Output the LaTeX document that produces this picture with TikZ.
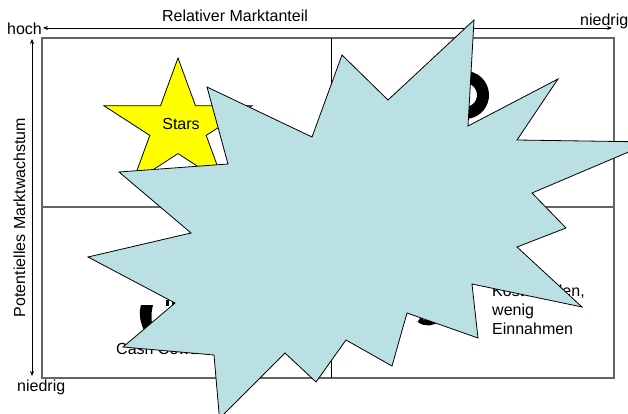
\documentclass[tikz,border=0pt]{standalone}
\usepackage{fontspec}
\setmainfont{Liberation Sans}
\usetikzlibrary{arrows.meta}
\definecolor{boomblue}{RGB}{186,224,228}
\definecolor{framegray}{RGB}{100,100,100}
\definecolor{staryellow}{RGB}{255,255,0}
\tikzset{
  lbl/.style={inner sep=0pt, font=\fontsize{16}{19}\selectfont},
  frameline/.style={draw=framegray, line width=1.4pt},
  divline/.style={draw=framegray, line width=1.1pt},
  axisline/.style={draw=black, line width=0.7pt, {Stealth[length=5pt,width=4pt]}-{Stealth[length=5pt,width=4pt]}},
  boom/.style={fill=boomblue, draw=black, line width=0.8pt, line join=miter},
  starshape/.style={fill=staryellow, draw=black, line width=0.8pt},
  glyph/.style={draw=black, line width=12pt}
}
\begin{document}
\begin{tikzpicture}[x=1pt,y=-1pt]
\useasboundingbox (0,0) rectangle (628,414);
\clip (0,0) rectangle (628,414);
\fill[white] (0,0) rectangle (628,414);

% matrix
\draw[frameline] (42,38) rectangle (614,378);
\draw[divline] (42,207) -- (614,207);
\draw[draw=black, line width=0.8pt] (331,38) -- (331,378);

% axes
\coordinate (hl) at (43,28);
\coordinate (hr) at (612,28);
\coordinate (vt) at (32,39);
\coordinate (vb) at (32,376);
\draw[axisline] (hl) -- (hr);
\draw[axisline] (vt) -- (vb);

% labels
\node[lbl, anchor=base] (rel) at (235,22) {Relativer Marktanteil};
\node[lbl, anchor=base west] (hoch) at (7,35) {hoch};
\node[lbl, anchor=base west] (niedr1) at (580,26) {niedrig};
\node[lbl, anchor=base west] (niedr2) at (17,391.5) {niedrig};
\node[lbl, anchor=base, rotate=90] (pot) at (25,217.5) {Potentielles Marktwachstum};

% star
\draw[starshape] (178,58) -- (195.5,105.8) -- (252,105.8) -- (206.2,135.4) -- (223.7,183.2)
  -- (178,153.6) -- (132.3,183.2) -- (149.8,135.4) -- (104,105.8) -- (160.5,105.8) -- cycle;
\node[lbl, anchor=base] (stars) at (181,129.5) {Stars};

% question mark glyph (top right)
\draw[glyph] (465,95) ++(200:18) arc[start angle=200, end angle=455, radius=18] -- ++(-8,10) -- ++(0,14);
\fill[black] (456,158) circle (7);

% cash cow glyph (bottom left)
\fill[black] (141,305) -- (153,305) .. controls (151,312) and (151,320) .. (153,330)
  -- (146,334) .. controls (139,322) and (139,312) .. (141,305) -- cycle;
\fill[black] (166,299.5) rectangle (168.5,305.5);
\fill[black] (171.5,300) rectangle (176,305.5);
\node[lbl, anchor=base west] (cash) at (116,354) {Cash Cows};

% dog glyph (bottom right)
\draw[black, line width=5pt] (428,309) ++(130:14) arc[start angle=130, end angle=40, radius=14];
\node[lbl, anchor=base west] (d1) at (492,296) {Kostenfallen,};
\node[lbl, anchor=base west] (d2) at (492,315) {wenig};
\node[lbl, anchor=base west] (d3) at (492,334) {Einnahmen};

% explosion
\draw[boom] (474,20) -- (468,126) -- (558,79) -- (517,140) -- (652,142) -- (532,193)
  -- (566,228) -- (517,247) -- (582,307) -- (472,284) -- (478,338) -- (407,313)
  -- (392,366) -- (346,340) -- (316,382) -- (285,353) -- (219.5,418.5) -- (214,355)
  -- (123,347) -- (175,303) -- (88,257) -- (191,233) -- (119,172) -- (228,164)
  -- (207,87) -- (312,137) -- (342,55) -- (388,100) -- cycle;
\end{tikzpicture}
\end{document}
